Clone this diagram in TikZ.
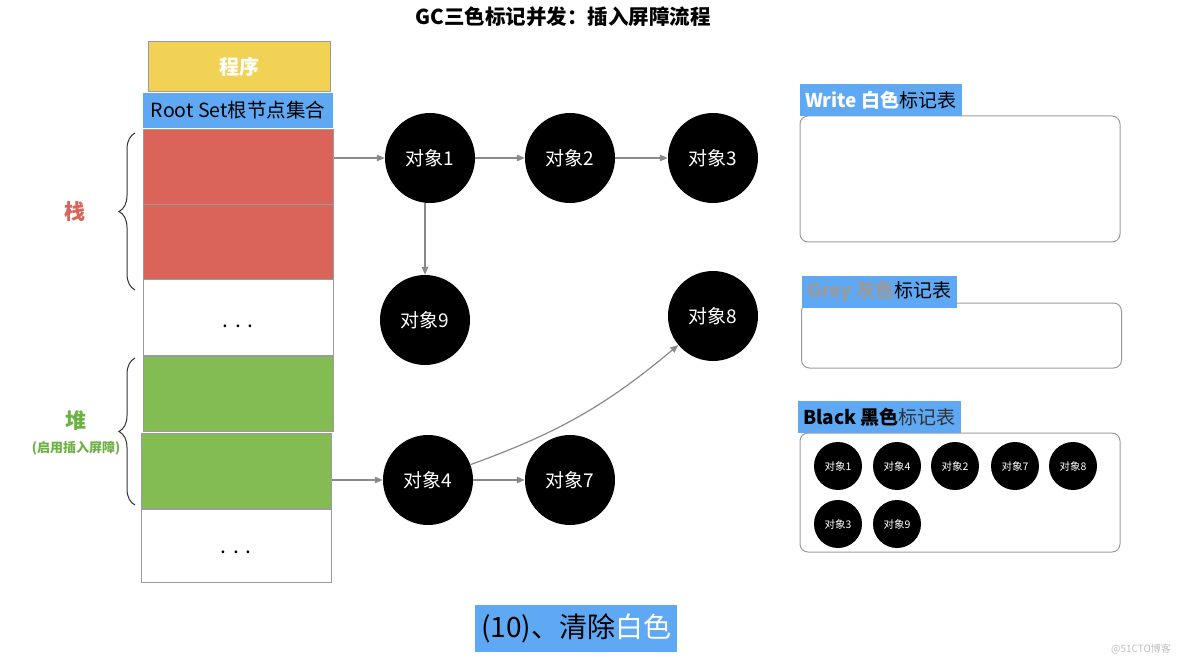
\documentclass[tikz,border=0pt]{standalone}
\usepackage{fontspec}
\setmainfont{Noto Sans CJK SC}
\usetikzlibrary{arrows.meta,positioning,decorations.pathreplacing}
\definecolor{progyellow}{HTML}{F2D255}
\definecolor{tagblue}{HTML}{5FA9F4}
\definecolor{stackred}{HTML}{DA645A}
\definecolor{heapgreen}{HTML}{82BC52}
\definecolor{labelgreen}{HTML}{6DB043}
\definecolor{cellgray}{HTML}{9B9B9B}
\definecolor{arrowgray}{HTML}{8A8A8A}
\definecolor{greytext}{HTML}{9A9A9A}
\newcommand{\pxfont}[1]{\fontsize{#1}{#1}\selectfont}

\begin{document}
\begin{tikzpicture}[
  x=1pt,y=-1pt,
  every node/.style={font=\pxfont{19}},
  cell/.style={draw=cellgray,line width=1pt,minimum width=190pt,minimum height=75pt,inner sep=0pt},
  obj/.style={circle,fill=black,text=white,minimum size=90pt,inner sep=0pt},
  smallobj/.style={circle,fill=black,text=white,minimum size=48pt,inner sep=0pt,font=\pxfont{10.5}},
  table/.style={draw=cellgray,line width=1pt,rounded corners=8pt,minimum width=320pt},
  tag/.style={fill=tagblue,inner xsep=5pt,inner ysep=0pt,minimum height=32pt,anchor=south west},
  arrow/.style={-{Triangle[length=8pt,width=6.5pt]},arrowgray,line width=1.2pt},
  brace/.style={decorate,decoration={brace,amplitude=16pt},draw=black!80,line width=1pt}
]
  \useasboundingbox (0,0) rectangle (1184,663);
  \node[font=\pxfont{20.5}\bfseries] (title) at (563,17) {GC三色标记并发：插入屏障流程};

  % left column
  \node[cell,fill=progyellow,text=white,minimum width=182pt,minimum height=50pt,font=\pxfont{20}\bfseries] (prog) at (239,67) {程序};
  \node[cell,draw=none,fill=tagblue,minimum height=35pt,font=\pxfont{19.5}] (root) at (238,110.5) {Root Set根节点集合};
  \node[cell,fill=stackred] (stack1) at (238,167) {};
  \node[cell,fill=stackred] (stack2) at (238,242) {};
  \node[cell] (dots1) at (238,317.5) {};
  \node[cell,fill=heapgreen] (heap1) at (238,393.5) {};
  \node[cell,fill=heapgreen] (heap2) at (236,470.5) {};
  \node[cell,minimum height=73pt] (dots2) at (236,545.5) {};
  \node[font=\pxfont{21}] (dots1txt) at ([yshift=-9pt]dots1.center) {. . .};
  \node[font=\pxfont{21}] (dots2txt) at ([yshift=-7pt]dots2.center) {. . .};

  \draw[brace] (135,290) -- (135,133);
  \draw[brace] (135,505) -- (135,358);
  \node[text=stackred,font=\pxfont{21}\bfseries] (stacklab) at (75,212) {栈};
  \node[text=labelgreen,font=\pxfont{21}\bfseries] (heaplab) at (76,421) {堆};
  \node[text=labelgreen,font=\pxfont{13}\bfseries] (heapnote) at (76,448) {(启用插入屏障)};

  % objects
  \node[obj] (o1) at (430,158) {对象1};
  \node[obj] (o2) at (570,158) {对象2};
  \node[obj] (o3) at (713,158) {对象3};
  \node[obj] (o9) at (425,320) {对象9};
  \node[obj] (o8) at (713,316) {对象8};
  \node[obj] (o4) at (428,480) {对象4};
  \node[obj] (o7) at (570,480) {对象7};

  \draw[arrow] (stack1.east |- o1) -- (o1);
  \draw[arrow] (o1) -- (o2);
  \draw[arrow] (o2) -- (o3);
  \draw[arrow] (o1.south -| o9) -- (o9.north);
  \draw[arrow] (heap2.east |- o4) -- (o4);
  \draw[arrow] (o4) -- (o7);
  \draw[arrow] (o4) to[bend right=10] (o8);

  % mark tables
  \node[table,minimum height=126pt] (wtab) at (960,179) {};
  \node[tag] (wlab) at (800,116) {\textcolor{white}{\bfseries Write 白色}标记表};
  \node[table,minimum height=65pt] (gtab) at (961.5,335.5) {};
  \node[tag] (glab) at (802,308) {\textcolor{greytext}{\bfseries Grey 灰色}标记表};
  \node[table,minimum height=119pt] (btab) at (960,492.5) {};
  \node[tag] (blab) at (798,433) {{\bfseries Black 黑色}\textcolor{black!80}{标记表}};

  \foreach \n/\x/\y in {1/838/466,4/897/466,2/955/466,7/1015/466,8/1073/466,3/838/524,9/897/524}
    \node[smallobj] (b\n) at (\x,\y) {对象\n};

  \node[tag,anchor=center,minimum height=47pt,inner xsep=6pt,font=\pxfont{28}] (step) at (576,628.5) {(10)、清除\textcolor{white}{白色}};
  \node[text=black!25,font=\pxfont{10}] (mark) at (1141,649) {@51CTO博客};
\end{tikzpicture}
\end{document}
